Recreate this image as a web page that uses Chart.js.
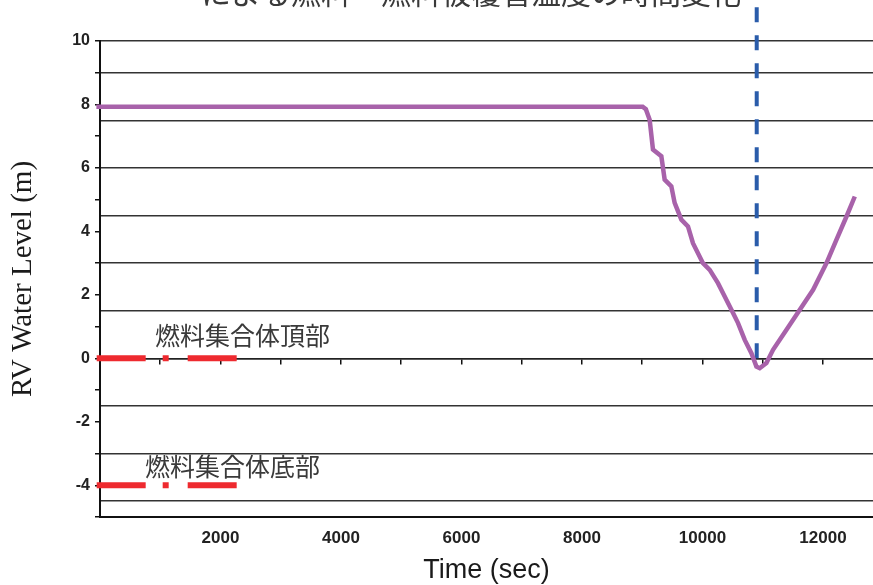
<!DOCTYPE html>
<html>
<head>
<meta charset="utf-8">
<script src="https://cdn.jsdelivr.net/npm/chart.js@4.4.1/dist/chart.umd.min.js"></script>
<style>
  html, body { margin: 0; padding: 0; background: #fff; overflow: hidden; }
</style>
</head>
<body>
<canvas id="levelChart" width="873" height="585"></canvas>
<script>
// RV water level (m) vs time (sec)
const timeSec = [-60, 9007, 9060, 9123, 9178, 9317, 9372, 9483, 9538, 9649, 9759, 9842, 10008, 10120, 10257,
    10369, 10507, 10590, 10701, 10812, 10895, 10950, 11061, 11171, 11394, 11615, 11836, 12058, 12224, 12390, 12528];
const waterLevel = [7.93, 7.93, 7.85, 7.52, 6.58, 6.37, 5.63, 5.42, 4.9, 4.37, 4.16, 3.63, 3.0, 2.79, 2.37,
    1.95, 1.43, 1.11, 0.58, 0.16, -0.26, -0.31, -0.15, 0.27, 0.9, 1.53, 2.16, 3.0, 3.74, 4.47, 5.1];

// fuel assembly top / bottom markers
const markerTime = [-55, 2270];
const fuelTopLevel = 0;
const fuelBottomLevel = -4;

// vertical dashed marker
const eventTime = 10900;
const eventLevels = [0, 11.07];

// tick values
const timeLabelTicks = [2000, 4000, 6000, 8000, 10000, 12000];
const timeMinorTicks = [1000, 2000, 3000, 4000, 5000, 6000, 7000, 8000, 9000, 10000, 11000, 12000];
const levelTicks = [-5, -4, -3, -2, -1, 0, 1, 2, 3, 4, 5, 6, 7, 8, 9, 10];
const levelLabels = [-4, -2, 0, 2, 4, 6, 8, 10];
// horizontal lines drawn across the plot
const gridLevels = [10, 9, 7.5, 6, 4.5, 3, 1.5, 0, -1.5, -3, -4.5];

const noteLabels = ['燃料集合体頂部', '燃料集合体底部'];
const noteTime = [913, 747];
const noteLevel = [0.73, -3.42];

const titleText = 'による燃料・燃料被覆管温度の時間変化';

const tickFont = { family: "'Liberation Sans', Arial, sans-serif", weight: 'bold' };

const textPlugin = {
    id: 'textPlugin',
    afterDatasetsDraw(chart) {
        const { ctx, scales: { x, y } } = chart;
        ctx.save();
        ctx.fillStyle = '#3a3a3a';
        ctx.textBaseline = 'middle';
        ctx.textAlign = 'left';
        ctx.font = "25px 'Noto Sans CJK JP'";
        noteLabels.forEach((t, i) => {
            ctx.fillText(t, x.getPixelForValue(noteTime[i]), y.getPixelForValue(noteLevel[i]));
        });
        // title is cut off by the top edge in the original
        ctx.textAlign = 'center';
        ctx.font = "30px 'Noto Sans CJK JP'";
        ctx.fillText(titleText, 471, -7);
        ctx.restore();
    }
};

new Chart(document.getElementById('levelChart').getContext('2d'), {
    type: 'line',
    data: {
        datasets: [
            {
                data: timeSec.map((t, i) => ({ x: t, y: waterLevel[i] })),
                borderColor: '#a862aa',
                borderWidth: 4.5,
                pointRadius: 0,
                tension: 0,
                clip: false
            },
            {
                data: eventLevels.map(v => ({ x: eventTime, y: v })),
                borderColor: '#2a5caa',
                borderWidth: 4,
                borderDash: [15, 13],
                borderCapStyle: 'butt',
                pointRadius: 0,
                clip: false
            },
            {
                data: markerTime.map(t => ({ x: t, y: fuelTopLevel })),
                borderColor: '#ee2a2f',
                borderWidth: 6,
                borderDash: [49, 17, 6, 19],
                borderCapStyle: 'butt',
                pointRadius: 0,
                clip: false
            },
            {
                data: markerTime.map(t => ({ x: t, y: fuelBottomLevel })),
                borderColor: '#ee2a2f',
                borderWidth: 6,
                borderDash: [49, 17, 6, 19],
                borderCapStyle: 'butt',
                pointRadius: 0,
                clip: false
            }
        ]
    },
    options: {
        responsive: false,
        animation: false,
        layout: { padding: { top: 41, right: 0, bottom: 0, left: 0 } },
        plugins: { legend: { display: false }, tooltip: { enabled: false } },
        scales: {
            x: {
                type: 'linear',
                min: 0,
                max: 12830,
                grid: { drawOnChartArea: false, drawTicks: false },
                border: { color: '#111', width: 2 },
                ticks: {
                    autoSkip: false,
                    maxRotation: 0,
                    padding: 11,
                    color: '#222',
                    font: { ...tickFont, size: 17 },
                    callback: v => String(v)
                },
                afterBuildTicks: s => { s.ticks = timeLabelTicks.map(v => ({ value: v })); },
                title: {
                    display: true,
                    text: 'Time (sec)',
                    color: '#1a1a1a',
                    font: { family: "'Liberation Sans', Arial, sans-serif", size: 27, lineHeight: 1.1 },
                    padding: { top: 0, bottom: 0 }
                },
                afterFit: s => { s.height = 68; }
            },
            x2: {
                type: 'linear',
                display: true,
                position: { y: 0 },
                min: 0,
                max: 12830,
                grid: { drawOnChartArea: false, drawTicks: true, tickLength: 5, color: '#111', lineWidth: 1.5 },
                border: { color: '#222', width: 1.5 },
                ticks: { display: false },
                afterBuildTicks: s => { s.ticks = timeMinorTicks.map(v => ({ value: v })); }
            },
            y: {
                type: 'linear',
                position: 'left',
                min: -5,
                max: 10,
                grid: { drawOnChartArea: false, drawTicks: true, tickLength: 5, color: '#111', lineWidth: 1.5 },
                border: { color: '#111', width: 2 },
                ticks: {
                    autoSkip: false,
                    padding: 5,
                    color: '#222',
                    font: { ...tickFont, size: 16 },
                    callback: v => (levelLabels.includes(v) ? String(v) : '')
                },
                afterBuildTicks: s => { s.ticks = levelTicks.map(v => ({ value: v })); },
                title: {
                    display: true,
                    text: 'RV Water Level (m)',
                    color: '#1a1a1a',
                    font: { family: "'Liberation Serif', 'Times New Roman', serif", size: 29 },
                    padding: { top: 6, bottom: 0 }
                },
                afterFit: s => { s.width = 100; }
            },
            yg: {
                type: 'linear',
                display: true,
                position: 'left',
                min: -5,
                max: 10,
                grid: { drawTicks: false, color: '#333', lineWidth: 1.5 },
                border: { display: false },
                ticks: { display: false },
                afterBuildTicks: s => { s.ticks = gridLevels.map(v => ({ value: v })); },
                afterFit: s => { s.width = 0; }
            }
        }
    },
    plugins: [textPlugin]
});
</script>
</body>
</html>
